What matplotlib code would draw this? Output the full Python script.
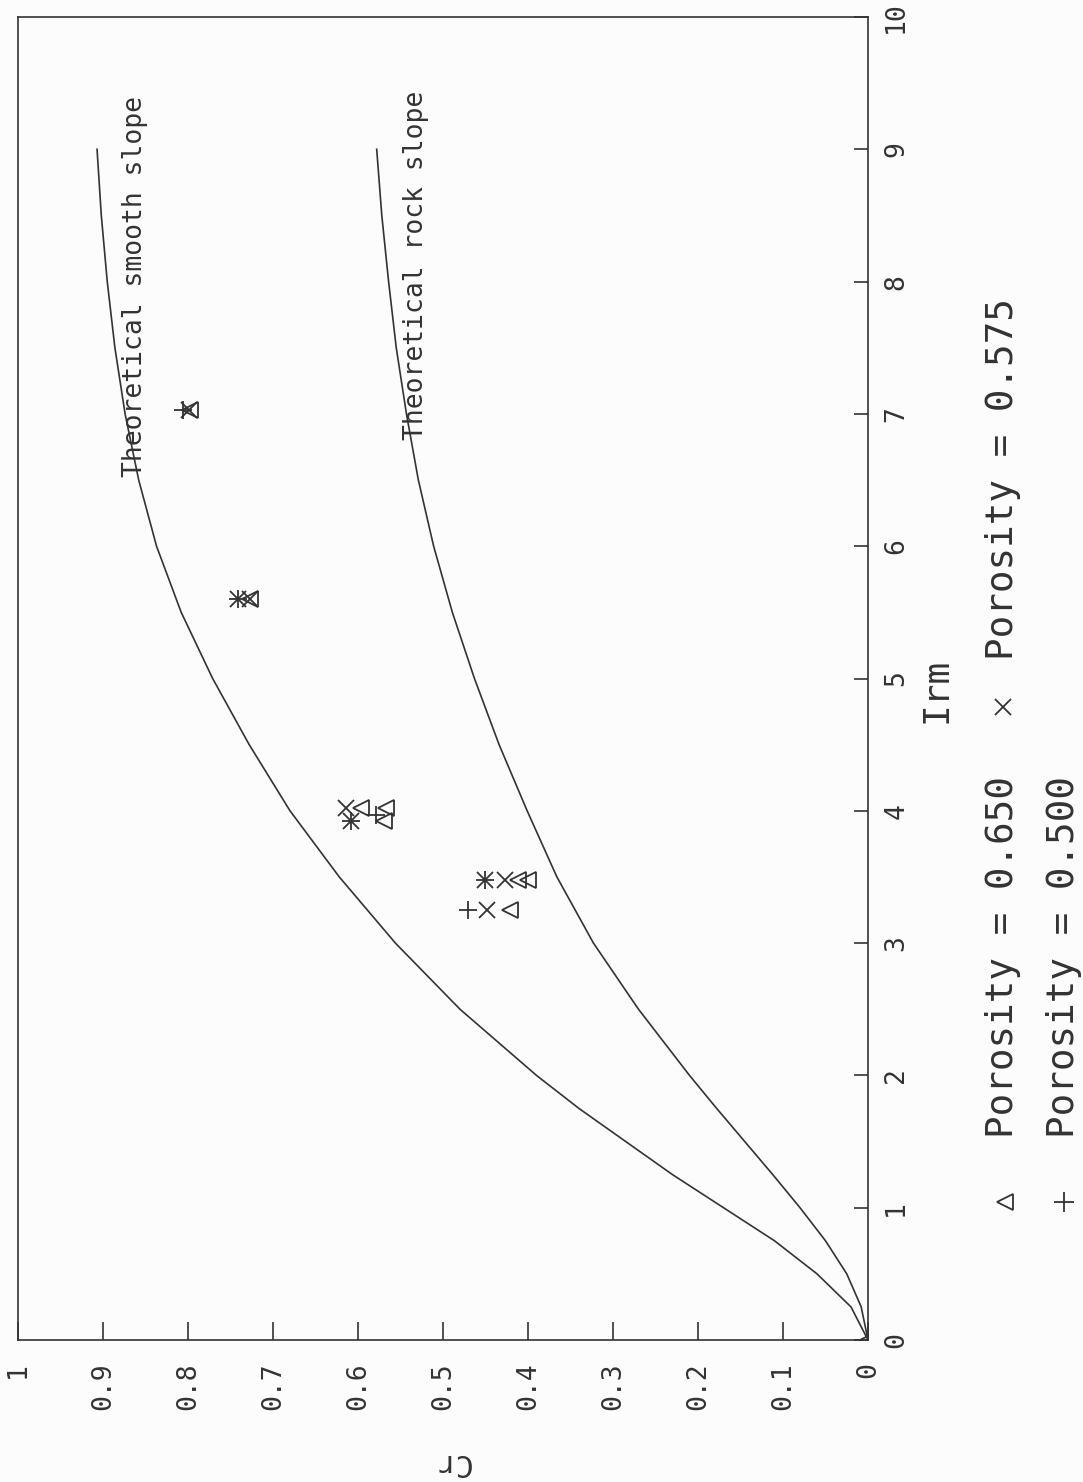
import matplotlib
matplotlib.use("Agg")
import matplotlib.pyplot as plt

# ---- data -------------------------------------------------------------
# theoretical curves: Cr against Irm
smooth_irm = [0, 0.25, 0.5, 0.75, 1, 1.25, 1.5, 1.75, 2, 2.5, 3, 3.5, 4, 4.5,
              5, 5.5, 6, 6.5, 7, 7.5, 8, 8.5, 9]
smooth_cr = [0, 0.02, 0.06, 0.11, 0.17, 0.23, 0.285, 0.34, 0.39, 0.48, 0.556,
             0.622, 0.68, 0.728, 0.771, 0.808, 0.837, 0.858, 0.874, 0.886,
             0.895, 0.902, 0.907]
rock_irm = [0, 0.25, 0.5, 0.75, 1, 1.25, 1.5, 1.75, 2, 2.5, 3, 3.5, 4, 4.5,
            5, 5.5, 6, 6.5, 7, 7.5, 8, 8.5, 9]
rock_cr = [0, 0.008, 0.025, 0.05, 0.08, 0.112, 0.145, 0.178, 0.21, 0.27,
           0.323, 0.366, 0.401, 0.434, 0.463, 0.489, 0.511, 0.529, 0.543,
           0.555, 0.564, 0.572, 0.578]

# measurements
p650_irm = [0, 3.25, 3.48, 3.48, 3.92, 4.02, 4.02, 5.60, 7.03]
p650_cr = [0, 0.421, 0.412, 0.400, 0.569, 0.567, 0.596, 0.727, 0.798]
p575_irm = [3.25, 3.48, 3.48, 3.92, 4.02, 5.60, 5.60, 7.03]
p575_cr = [0.448, 0.451, 0.427, 0.608, 0.614, 0.741, 0.727, 0.799]
p500_irm = [3.25, 3.48, 3.92, 3.97, 5.60, 7.03]
p500_cr = [0.471, 0.451, 0.608, 0.579, 0.741, 0.806]

cr_ticks = [0, 0.1, 0.2, 0.3, 0.4, 0.5, 0.6, 0.7, 0.8, 0.9, 1]
cr_labels = ["0", "0.1", "0.2", "0.3", "0.4", "0.5", "0.6", "0.7", "0.8", "0.9", "1"]
irm_ticks = [0, 1, 2, 3, 4, 5, 6, 7, 8, 9, 10]
irm_labels = [str(t) for t in irm_ticks]

legend_labels = ["Porosity = 0.650", "Porosity = 0.575", "Porosity = 0.500"]

# ---- figure -----------------------------------------------------------
W, H = 1083, 1482
INK = "#333333"
FONT = "DejaVu Sans Mono"

fig = plt.figure(figsize=(W / 100, H / 100), dpi=100, facecolor="#fcfcfc")

left, right, top, bottom = 18, 868, 17, 1340
ax = fig.add_axes([left / W, 1 - bottom / H, (right - left) / W, (bottom - top) / H])
ax.set_facecolor("#fcfcfc")

# the plot is laid out sideways: Cr runs right-to-left, Irm bottom-to-top
ax.set_xlim(1, 0)
ax.set_ylim(0, 10)

line_kw = dict(color=INK, lw=1.2)
ax.plot(smooth_cr, smooth_irm, **line_kw)
ax.plot(rock_cr, rock_irm, **line_kw)

mk_kw = dict(ls="none", color=INK, mfc="none", mec=INK, mew=1.3)
ax.plot(p650_cr, p650_irm, marker="<", ms=12, **mk_kw)
ax.plot(p575_cr, p575_irm, marker="x", ms=11, **mk_kw)
ax.plot(p500_cr, p500_irm, marker="+", ms=13, **mk_kw)

for s in ax.spines.values():
    s.set_color(INK)
    s.set_linewidth(1.2)

ax.set_xticks(cr_ticks)
ax.set_xticklabels(cr_labels)
ax.tick_params(axis="x", direction="in", length=13, width=1.2, color=INK,
               pad=16, labelsize=19, labelcolor=INK, labelrotation=90)
ax.yaxis.tick_right()
ax.set_yticks(irm_ticks)
ax.set_yticklabels(irm_labels)
ax.tick_params(axis="y", direction="in", length=10, width=1.2, color=INK,
               pad=11, labelsize=19, labelcolor=INK)
for lab in ax.get_xticklabels():
    lab.set_fontfamily(FONT)
    lab.set_va("top")
    lab.set_ha("center")
for lab in ax.get_yticklabels():
    lab.set_fontfamily(FONT)
    lab.set_rotation(90)
    lab.set_va("center")
    lab.set_ha("left")

# curve annotations
ax.text(0.854, 6.52, "Theoretical smooth slope", rotation=90,
        rotation_mode="anchor", ha="left", va="baseline", fontsize=19,
        family=FONT, color=INK)
ax.text(0.524, 6.80, "Theoretical rock slope", rotation=90,
        rotation_mode="anchor", ha="left", va="baseline", fontsize=19,
        family=FONT, color=INK)

# ---- axis titles and legend, in figure pixel space ---------------------
ov = fig.add_axes([0, 0, 1, 1], facecolor="none")
ov.set_xlim(0, W)
ov.set_ylim(H, 0)
ov.axis("off")

ov.text(936, 690, "Irm", rotation=90, ha="center", va="center",
        fontsize=26, family=FONT, color=INK)
ov.text(451, 1463, "Cr", rotation=180, ha="center", va="center",
        fontsize=22, family=FONT, color=INK)

leg_kw = dict(rotation=90, rotation_mode="anchor", ha="left", va="baseline",
              fontsize=27, family=FONT, color=INK)
ov.plot([1005], [1202], marker="<", ms=12, **mk_kw)
ov.text(1013, 1138, legend_labels[0], **leg_kw)
ov.plot([1003], [707], marker="x", ms=12, **mk_kw)
ov.text(1013, 660, legend_labels[1], **leg_kw)
ov.plot([1064], [1202], marker="+", ms=14, **mk_kw)
ov.text(1074, 1138, legend_labels[2], **leg_kw)

fig.savefig("out.png", dpi=100, facecolor=fig.get_facecolor())
